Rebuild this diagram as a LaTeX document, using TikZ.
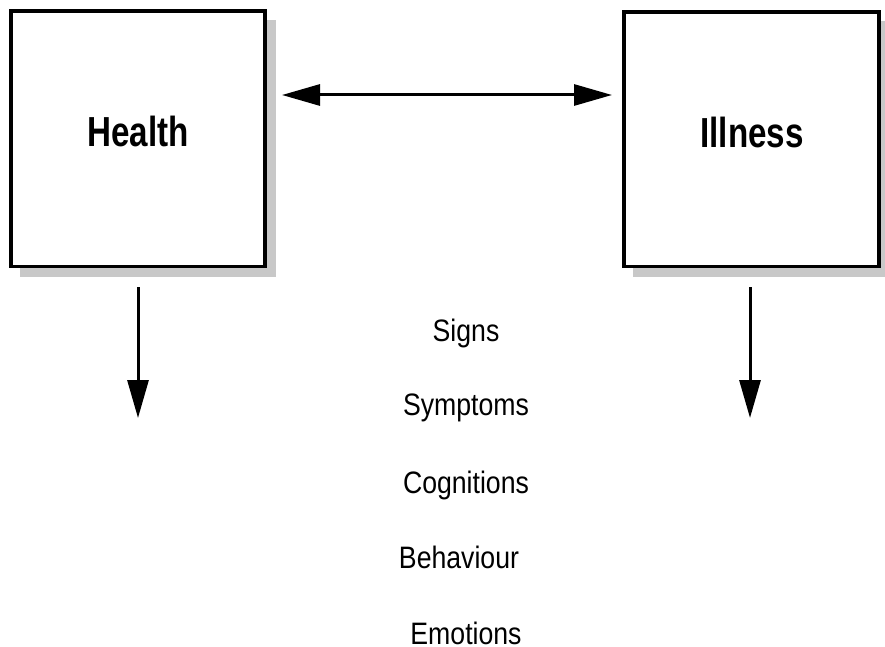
\documentclass[tikz,border=0pt]{standalone}
\usepackage{fontspec}
\usetikzlibrary{arrows.meta}
% condensed sans faces for the box titles and the list
\newfontfamily\titlefont[FakeStretch=0.79]{Liberation Sans Bold}
\newfontfamily\listfont[FakeStretch=0.86]{Liberation Sans}
\definecolor{shadowgray}{HTML}{C8C8C8}
\tikzset{
  boxframe/.style={draw=black, line width=3.6pt, fill=white},
  boxshadow/.style={fill=shadowgray, draw=none},
  boxtitle/.style={anchor=base, inner sep=0pt, font=\titlefont\fontsize{42}{42}\selectfont},
  listitem/.style={anchor=base, inner sep=0pt, text depth=0pt, font=\listfont\fontsize{31}{31}\selectfont},
  link/.style={line width=3pt, -{Triangle[length=38pt, width=21pt]}},
  twoway/.style={line width=3pt, {Triangle[length=38pt, width=21pt]}-{Triangle[length=38pt, width=21pt]}}
}
\begin{document}
\begin{tikzpicture}[x=1pt, y=-1pt]
  \useasboundingbox (0,0) rectangle (885,647);

  % drop shadows
  \fill[boxshadow] (20,20) rectangle (276,277);
  \fill[boxshadow] (633,21) rectangle (885,277);

  % the two boxes
  \draw[boxframe] (11,11) rectangle (265,266.5);
  \draw[boxframe] (624,12) rectangle (879,266.5);

  \node[boxtitle] (health) at (138,147) {Health};
  \node[boxtitle] (illness) at (752,148) {Illness};

  % anchor points for the connectors
  \coordinate (linkL) at (282,95);
  \coordinate (linkR) at (612,95);
  \coordinate (hdownA) at (138,287);
  \coordinate (hdownB) at (138,418);
  \coordinate (idownA) at (750,287);
  \coordinate (idownB) at (750,418);

  \draw[twoway] (linkL) -- (linkR);
  \draw[link] (hdownA) -- (hdownB);
  \draw[link] (idownA) -- (idownB);

  % list of aspects
  \node[listitem] (signs) at (466,341) {Signs};
  \node[listitem] (symptoms) at (466,415) {Symptoms};
  \node[listitem] (cognitions) at (466,493) {Cognitions};
  \node[listitem] (behaviour) at (459,568) {Behaviour};
  \node[listitem] (emotions) at (466,644) {Emotions};
\end{tikzpicture}
\end{document}
